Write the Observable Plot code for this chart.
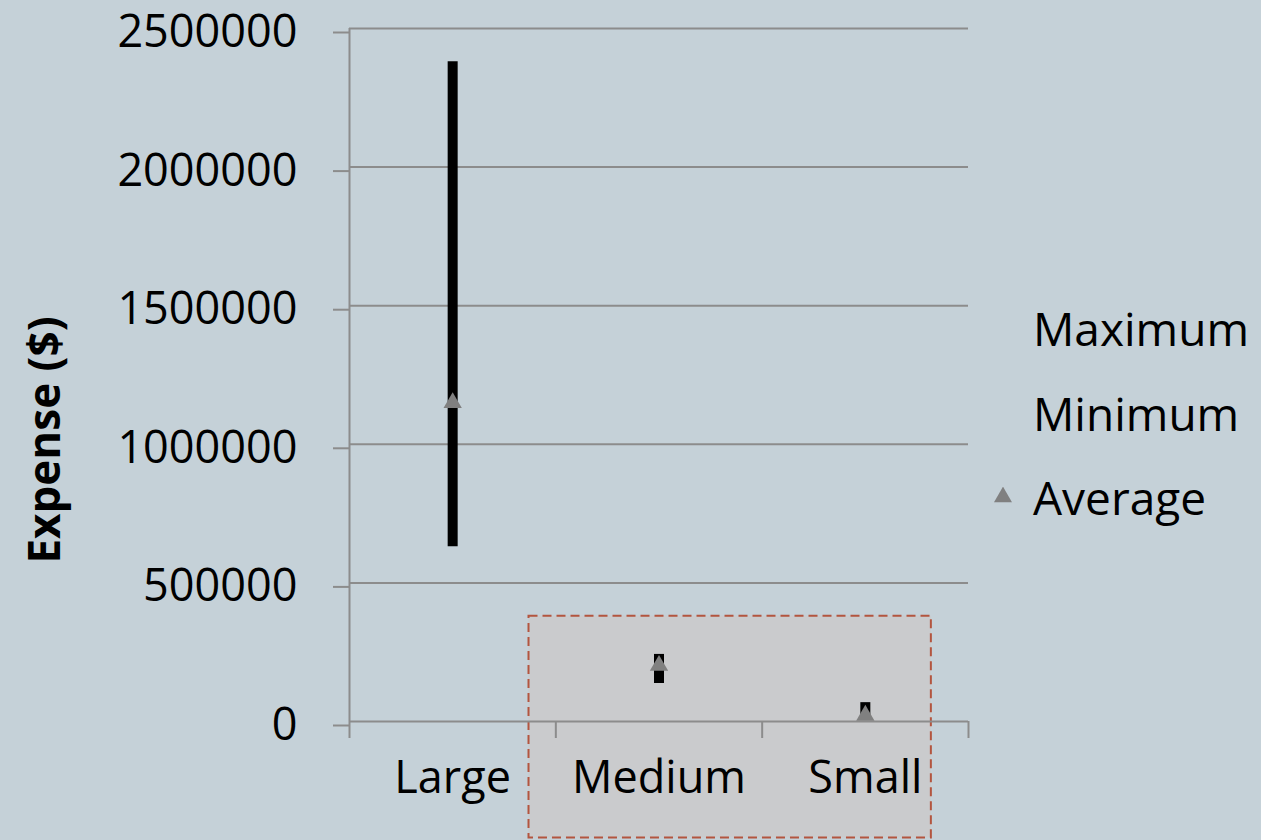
<!DOCTYPE html>
<html>
<head>
<meta charset="utf-8">
<script src="https://cdn.jsdelivr.net/npm/d3@7"></script>
<script src="https://cdn.jsdelivr.net/npm/@observablehq/plot@0.6"></script>
<style>
  html, body { margin: 0; padding: 0; background: #c5d1d8; }
  #chart { position: relative; width: 1261px; height: 840px; font-family: "Open Sans", sans-serif; }
  #chart > svg.plot { position: absolute; left: 0; top: 0; overflow: visible; }
  .legend-item { position: absolute; left: 1033px; font-size: 46px; line-height: 50px; color: #000; white-space: nowrap; }
</style>
</head>
<body>
<div id="chart"></div>
<script>
// Expense range by company size
const sizes = ["Large", "Medium", "Small"];
const maximum = [2380000, 242000, 68000];
const minimum = [630000, 137000, 10000];
const average = [1150000, 202000, 22000];
const yTicks = [0, 500000, 1000000, 1500000, 2000000, 2500000];
const legendLabels = ["Maximum", "Minimum", "Average"];

const rows = sizes.map((s, i) => ({size: s, pos: i + 0.5, max: maximum[i], min: minimum[i], avg: average[i]}));
const bounds = d3.range(sizes.length + 1);

// highlighted region around the Medium and Small groups
const iMed = sizes.indexOf("Medium"), iSmall = sizes.indexOf("Small");
const highlight = [{x1: iMed - 0.13, x2: iSmall + 0.82, y1: 380000, y2: -420000}];

const grid = "#8c8c8c";

const chart = Plot.plot({
  className: "plot",
  width: 1261,
  height: 840,
  marginLeft: 349,
  marginRight: 293,
  marginTop: 28,
  marginBottom: 119,
  style: {background: "transparent", fontSize: "45px", fontFamily: "'Open Sans', sans-serif", color: "#000"},
  x: {type: "linear", domain: [0, sizes.length]},
  y: {domain: [0, 2500000]},
  marks: [
    Plot.rect(highlight, {x1: "x1", x2: "x2", y1: "y1", y2: "y2", fill: "#cacbcd", stroke: "#b3553f", strokeWidth: 2, strokeDasharray: "9,5"}),
    Plot.gridY(yTicks, {stroke: grid, strokeOpacity: 1, strokeWidth: 2}),
    Plot.axisY({ticks: yTicks, tickSize: 16, tickPadding: 36, tickFormat: d => String(d), stroke: grid, strokeWidth: 2, fill: "#000", dy: 4, label: null}),
    Plot.axisX({ticks: bounds, tickSize: 17, tickFormat: () => "", stroke: grid, strokeWidth: 2, label: null}),
    Plot.ruleX([0], {y1: 0, y2: 2500000, stroke: grid, strokeWidth: 2}),
    Plot.text(rows, {x: "pos", text: "size", frameAnchor: "bottom", dy: 71, fill: "#000"}),
    Plot.text(["Expense ($)"], {frameAnchor: "left", textAnchor: "middle", dx: -304, dy: 65, rotate: -90, fontWeight: "bold", fontSize: 44, fill: "#000"}),
    Plot.ruleX(rows, {x: "pos", y1: "min", y2: "max", stroke: "#000", strokeWidth: 10}),
    Plot.dot(rows, {x: "pos", y: "avg", symbol: "triangle", r: 6.8, fill: "#808080", stroke: "none"})
  ]
});

const root = document.getElementById("chart");
root.appendChild(chart);

// legend on the right
const legendCenters = [328, 413, 497];
legendLabels.forEach((label, i) => {
  const div = document.createElement("div");
  div.className = "legend-item";
  div.style.top = (legendCenters[i] - 25) + "px";
  div.textContent = label;
  root.appendChild(div);
});
const sw = d3.create("svg")
  .attr("width", 18).attr("height", 17)
  .style("position", "absolute").style("left", "994px").style("top", "487px");
sw.append("path").attr("d", d3.symbol(d3.symbolTriangle, 140)()).attr("transform", "translate(9,10)").attr("fill", "#808080");
root.appendChild(sw.node());
</script>
</body>
</html>
